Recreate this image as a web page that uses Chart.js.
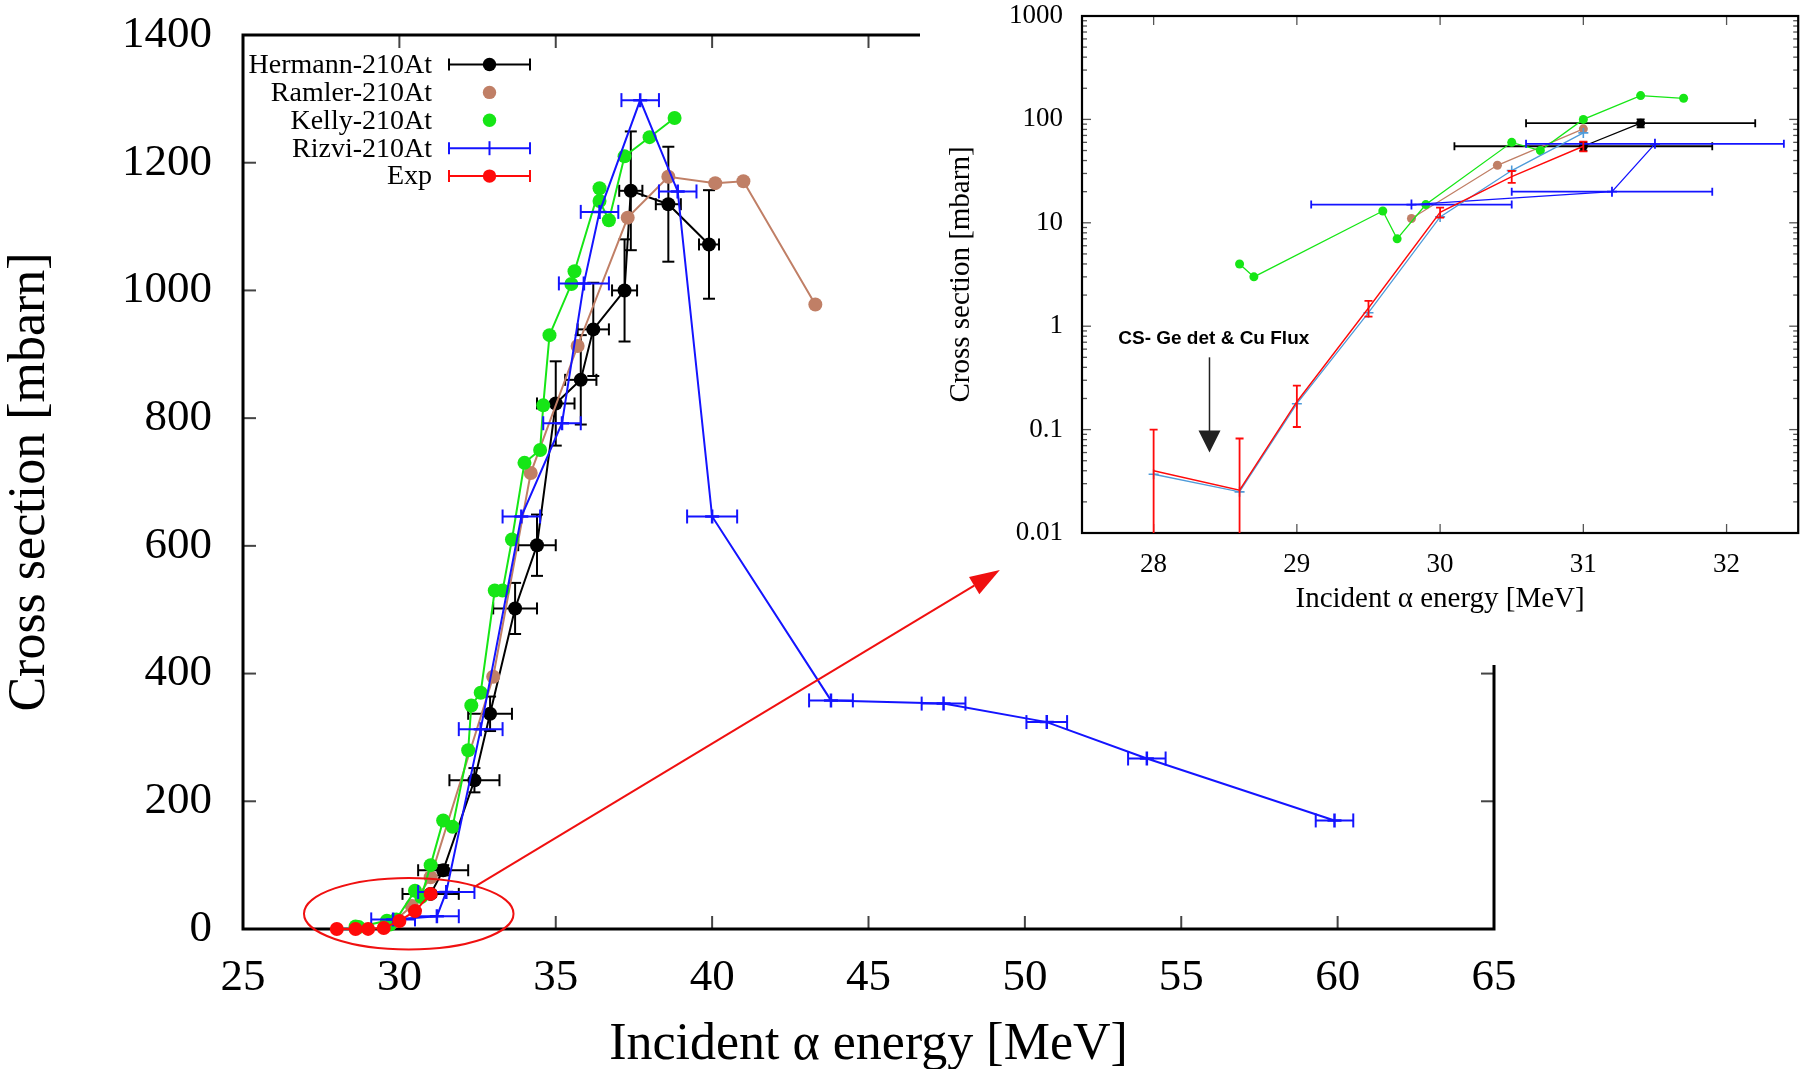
<!DOCTYPE html>
<html>
<head>
<meta charset="utf-8">
<script src="https://cdn.jsdelivr.net/npm/chart.js@4.4.0/dist/chart.umd.min.js"></script>
<style>
  html, body { margin: 0; padding: 0; background: #fff; overflow: hidden; }
  #wrap { position: relative; width: 1805px; height: 1069px; }
  #mainChart { position: absolute; left: 0; top: 0; }
  #insetChart { position: absolute; left: 920px; top: 0; background: #fff; }
  #overlay { position: absolute; left: 0; top: 0; pointer-events: none; }
</style>
</head>
<body>
<div id="wrap">
  <canvas id="mainChart" width="1805" height="1069"></canvas>
  <canvas id="insetChart" width="885" height="665"></canvas>
  <canvas id="overlay" width="1805" height="1069"></canvas>
</div>
<script>
// ---- data: alpha energy [MeV] vs cross section [mbarn] ----
const hermannE   = [31.0, 31.4, 32.4, 32.9, 33.7, 34.4, 35.0, 35.8, 36.2, 37.2, 37.4, 38.6, 39.9];
const hermannXS  = [55, 92, 233, 337, 502, 601, 823, 860, 939, 1000, 1156, 1135, 1072];
const hermannDE  = [0.9, 0.8, 0.8, 0.7, 0.7, 0.6, 0.6, 0.5, 0.5, 0.4, 0.37, 0.4, 0.32];
const hermannDXS = [5, 8, 19, 27, 40, 48, 66, 70, 73, 80, 93, 90, 85];

const ramlerE  = [29.8, 30.4, 31.0, 33.0, 34.2, 35.7, 37.3, 38.6, 40.1, 41.0, 43.3];
const ramlerXS = [11, 36, 81, 395, 714, 913, 1114, 1178, 1168, 1171, 978];

const kellyE  = [28.6, 28.7, 29.6, 29.7, 29.9, 30.5, 30.7, 31.0, 31.4, 31.7, 32.2, 32.3, 32.6, 33.05, 33.3,
                 33.6, 34.0, 34.5, 34.6, 34.8, 35.5, 35.6, 36.4, 36.4, 36.7, 37.2, 38.0, 38.8];
const kellyXS = [4, 3, 13, 7, 15, 60, 50, 100, 170, 160, 280, 350, 370, 530, 530,
                 610, 730, 750, 820, 930, 1010, 1030, 1160, 1140, 1110, 1210, 1240, 1270];

const rizviE  = [29.8, 31.2, 31.5, 32.6, 33.9, 35.2, 35.9, 36.4, 37.7, 38.9, 40.0, 43.8, 47.4, 50.7, 53.9, 59.9];
const rizviXS = [15, 20, 58, 313, 646, 792, 1011, 1123, 1298, 1155, 646, 358, 353, 324, 267, 170];
const rizviDE = [0.7, 0.7, 0.9, 0.7, 0.6, 0.6, 0.8, 0.6, 0.6, 0.6, 0.8, 0.7, 0.7, 0.65, 0.6, 0.6];

const expE   = [28.0, 28.6, 29.0, 29.5, 30.0, 30.5, 31.0];
const expXS  = [0.040, 0.026, 0.186, 1.5, 12.6, 28, 55];
const expDXS = [0.06, 0.056, 0.08, 0.26, 1.4, 3.7, 6];

const calcE  = [28.0, 28.6, 29.0, 29.5, 30.0, 30.5, 31.0];
const calcXS = [0.037, 0.025, 0.178, 1.35, 11.4, 32, 74];

const mainXTicks  = [25, 30, 35, 40, 45, 50, 55, 60, 65];
const mainYTicks  = [0, 200, 400, 600, 800, 1000, 1200, 1400];
const insetXTicks = [28, 29, 30, 31, 32];
const insetYTicks = [0.01, 0.1, 1, 10, 100, 1000];
const insetEmax   = 32;   // the zoomed panel only shows the low-energy part

// annotations (data coordinates)
const markCenter = [30.3, 24];
const markRadii  = [3.35, 56];
const arrowFrom  = [32.4, 66];
const arrowTo    = [49.2, 562];
const noteText   = 'CS- Ge det & Cu Flux';
const noteAt     = [28.42, 0.75];
const noteArrow  = [28.39, 0.5, 0.06];

const SERIF = '"Liberation Serif", "Times New Roman", serif';
const COL = {
  hermann: '#000000', ramler: '#c07f66', kelly: '#16e616',
  rizvi: '#1414ff', exp: '#ff0a0a', calc: '#4f9bd9'
};

Chart.defaults.color = '#000';
Chart.defaults.font.family = SERIF;

function series(label, color, E, XS, extra) {
  return Object.assign({
    label: label,
    data: E.map((e, i) => ({ x: e, y: XS[i] })),
    borderColor: color,
    backgroundColor: color,
    pointBackgroundColor: color,
    pointBorderColor: color,
    pointBorderWidth: 0,
    pointStyle: 'circle',
    tension: 0,
    fill: false
  }, extra);
}

// keep only the points below insetEmax (and the matching error columns)
function lowPart(E, ...cols) {
  const idx = E.map((e, i) => i).filter(i => E[i] < insetEmax);
  return [idx.map(i => E[i])].concat(cols.map(c => idx.map(i => c[i])));
}

function seg(ctx, x1, y1, x2, y2) {
  ctx.beginPath(); ctx.moveTo(x1, y1); ctx.lineTo(x2, y2); ctx.stroke();
}

// x / y error bars, drawn just under each dataset
const errorBars = {
  id: 'errorBars',
  beforeDatasetDraw(chart, args) {
    const ds = chart.data.datasets[args.index];
    if (!ds.xErr && !ds.yErr) return;
    const { ctx, chartArea: a } = chart;
    const xs = chart.scales.x, ys = chart.scales.y;
    const cap = ds.capSize || 5;
    ctx.save();
    ctx.beginPath();
    ctx.rect(a.left, a.top, a.right - a.left, a.bottom - a.top);
    ctx.clip();
    ctx.strokeStyle = ds.borderColor;
    ctx.lineWidth = ds.errWidth || 1.5;
    ds.data.forEach((p, i) => {
      const px = xs.getPixelForValue(p.x), py = ys.getPixelForValue(p.y);
      if (ds.xErr && ds.xErr[i]) {
        const x1 = xs.getPixelForValue(p.x - ds.xErr[i]);
        const x2 = xs.getPixelForValue(p.x + ds.xErr[i]);
        seg(ctx, x1, py, x2, py);
        seg(ctx, x1, py - cap, x1, py + cap);
        seg(ctx, x2, py - cap, x2, py + cap);
      }
      if (ds.yErr && ds.yErr[i]) {
        const lo = p.y - ds.yErr[i], hi = p.y + ds.yErr[i];
        const y1 = (ys.type === 'logarithmic' && lo <= 0) ? a.bottom + 20 : ys.getPixelForValue(lo);
        const y2 = ys.getPixelForValue(hi);
        seg(ctx, px, y1, px, y2);
        seg(ctx, px - cap, y1, px + cap, y1);
        seg(ctx, px - cap, y2, px + cap, y2);
      }
    });
    ctx.restore();
  }
};

// closed frame with inward ticks on all four sides
const frameTicks = {
  id: 'frameTicks',
  beforeDatasetsDraw(chart, args, o) {
    const { ctx, chartArea: a } = chart;
    const xs = chart.scales.x, ys = chart.scales.y;
    ctx.save();
    ctx.strokeStyle = o.tickColor;
    ctx.lineWidth = o.tickWidth;
    xs.ticks.forEach(t => {
      const px = xs.getPixelForValue(t.value);
      seg(ctx, px, a.bottom, px, a.bottom - o.major);
      seg(ctx, px, a.top, px, a.top + o.major);
    });
    ys.ticks.forEach(t => {
      const py = ys.getPixelForValue(t.value);
      seg(ctx, a.left, py, a.left + o.major, py);
      seg(ctx, a.right, py, a.right - o.major, py);
    });
    if (o.minor && ys.type === 'logarithmic') {
      ys.ticks.slice(0, -1).forEach(t => {
        for (let m = 2; m <= 9; m++) {
          const py = ys.getPixelForValue(t.value * m);
          seg(ctx, a.left, py, a.left + o.minor, py);
          seg(ctx, a.right, py, a.right - o.minor, py);
        }
      });
    }
    ctx.strokeStyle = '#000';
    ctx.lineWidth = o.frameWidth;
    ctx.strokeRect(a.left, a.top, a.right - a.left, a.bottom - a.top);
    ctx.restore();
  }
};

// key in the upper left corner: label right-aligned, sample to its right
const keyBox = {
  id: 'keyBox',
  afterDraw(chart) {
    const { ctx, chartArea: a } = chart;
    const textRight = a.left + 189, barL = a.left + 206, barR = a.left + 287, mid = a.left + 246.5;
    ctx.save();
    ctx.font = '28px ' + SERIF;
    ctx.textAlign = 'right';
    ctx.textBaseline = 'middle';
    chart.data.datasets.forEach((ds, i) => {
      const y = a.top + 29.5 + i * 27.9;
      ctx.fillStyle = '#000';
      ctx.fillText(ds.label, textRight, y + 1);
      ctx.strokeStyle = ds.borderColor;
      ctx.fillStyle = ds.borderColor;
      ctx.lineWidth = 2;
      if (ds.keyBar) {
        seg(ctx, barL, y, barR, y);
        seg(ctx, barL, y - 6, barL, y + 6);
        seg(ctx, barR, y - 6, barR, y + 6);
      }
      if (ds.pointStyle === 'cross') {
        seg(ctx, mid, y - 7, mid, y + 7);
      } else {
        ctx.beginPath(); ctx.arc(mid, y, 6.7, 0, Math.PI * 2); ctx.fill();
      }
    });
    ctx.restore();
  }
};

// red ellipse around the threshold region and arrow pointing to the zoomed panel
const zoomMark = {
  id: 'zoomMark',
  afterDraw(chart) {
    const cv = document.getElementById('overlay');
    const ctx = cv.getContext('2d');
    ctx.clearRect(0, 0, cv.width, cv.height);
    const xs = chart.scales.x, ys = chart.scales.y;
    const cx = xs.getPixelForValue(markCenter[0]), cy = ys.getPixelForValue(markCenter[1]);
    const rx = xs.getPixelForValue(markCenter[0] + markRadii[0]) - cx;
    const ry = cy - ys.getPixelForValue(markCenter[1] + markRadii[1]);
    ctx.strokeStyle = '#f01010';
    ctx.fillStyle = '#f01010';
    ctx.lineWidth = 2;
    ctx.beginPath(); ctx.ellipse(cx, cy, rx, ry, 0, 0, Math.PI * 2); ctx.stroke();

    const x1 = xs.getPixelForValue(arrowFrom[0]), y1 = ys.getPixelForValue(arrowFrom[1]);
    const x2 = xs.getPixelForValue(arrowTo[0]), y2 = ys.getPixelForValue(arrowTo[1]);
    const ang = Math.atan2(y2 - y1, x2 - x1);
    const len = 30, hw = 10;
    const bx = x2 - len * Math.cos(ang), by = y2 - len * Math.sin(ang);
    seg(ctx, x1, y1, bx, by);
    ctx.beginPath();
    ctx.moveTo(x2, y2);
    ctx.lineTo(bx + hw * Math.sin(ang), by - hw * Math.cos(ang));
    ctx.lineTo(bx - hw * Math.sin(ang), by + hw * Math.cos(ang));
    ctx.closePath();
    ctx.fill();
  }
};

// label and downward arrow inside the zoomed panel
const cutNote = {
  id: 'cutNote',
  afterDraw(chart) {
    const { ctx } = chart;
    const xs = chart.scales.x, ys = chart.scales.y;
    ctx.save();
    ctx.font = 'bold 19px "Liberation Sans", Arial, sans-serif';
    ctx.fillStyle = '#000';
    ctx.textAlign = 'center';
    ctx.textBaseline = 'middle';
    ctx.fillText(noteText, xs.getPixelForValue(noteAt[0]), ys.getPixelForValue(noteAt[1]));
    const ax = xs.getPixelForValue(noteArrow[0]);
    const ay1 = ys.getPixelForValue(noteArrow[1]), ay2 = ys.getPixelForValue(noteArrow[2]);
    ctx.strokeStyle = '#222';
    ctx.fillStyle = '#222';
    ctx.lineWidth = 1.5;
    seg(ctx, ax, ay1, ax, ay2 - 20);
    ctx.beginPath();
    ctx.moveTo(ax, ay2);
    ctx.lineTo(ax - 11, ay2 - 22);
    ctx.lineTo(ax + 11, ay2 - 22);
    ctx.closePath();
    ctx.fill();
    ctx.restore();
  }
};

function fixedTicks(list) {
  return scale => { scale.ticks = list.map(v => ({ value: v })); };
}
// fixed axis thickness, no extra room reserved for end labels
function fixHeight(h) {
  return s => { s.height = h; s.paddingLeft = 0; s.paddingRight = 0; };
}
function fixWidth(w) {
  return s => { s.width = w; s.paddingTop = 0; s.paddingBottom = 0; };
}
const plain = v => String(v);

// ---------------- main panel ----------------
const mainSets = [
  series('Hermann-210At', COL.hermann, hermannE, hermannXS,
    { xErr: hermannDE, yErr: hermannDXS, borderWidth: 2, pointRadius: 7, errWidth: 2, capSize: 6, keyBar: true, order: 4, clip: false }),
  series('Ramler-210At', COL.ramler, ramlerE, ramlerXS,
    { borderWidth: 2, pointRadius: 7, order: 3, clip: false }),
  series('Kelly-210At', COL.kelly, kellyE, kellyXS,
    { borderWidth: 2, pointRadius: 7, order: 2, clip: false }),
  series('Rizvi-210At', COL.rizvi, rizviE, rizviXS,
    { xErr: rizviDE, borderWidth: 2, pointStyle: 'cross', pointRadius: 7, pointBorderWidth: 2.5,
      errWidth: 2, capSize: 7, keyBar: true, order: 1, clip: false }),
  series('Exp', COL.exp, expE, expXS,
    { yErr: expDXS, borderWidth: 2, pointRadius: 7, errWidth: 2, capSize: 5, keyBar: true, order: 0, clip: false })
];

new Chart(document.getElementById('mainChart'), {
  type: 'line',
  data: { datasets: mainSets },
  options: {
    responsive: false,
    animation: false,
    devicePixelRatio: 1,
    events: [],
    layout: { padding: { left: 0, top: 35, right: 311, bottom: 0 } },
    plugins: {
      legend: { display: false },
      tooltip: { enabled: false },
      frameTicks: { major: 13, minor: 0, tickWidth: 2, tickColor: '#444', frameWidth: 3 }
    },
    scales: {
      x: {
        type: 'linear', min: 25, max: 65,
        afterBuildTicks: fixedTicks(mainXTicks),
        afterFit: fixHeight(140),
        grid: { display: false }, border: { display: false },
        ticks: { font: { size: 45 }, padding: 14, maxRotation: 0, autoSkip: false, callback: plain },
        title: { display: true, text: 'Incident α energy [MeV]', font: { size: 52, lineHeight: 0.9 }, padding: { top: 0, bottom: 0 } }
      },
      y: {
        type: 'linear', min: 0, max: 1400,
        afterBuildTicks: fixedTicks(mainYTicks),
        afterFit: fixWidth(243),
        grid: { display: false }, border: { display: false },
        ticks: { font: { size: 45 }, padding: 23, autoSkip: false, callback: plain },
        title: { display: true, text: 'Cross section [mbarn]', font: { size: 52, lineHeight: 1.15 }, padding: { top: 0, bottom: 0 } }
      }
    }
  },
  plugins: [errorBars, frameTicks, keyBox, zoomMark]
});

// ---------------- zoomed threshold panel ----------------
const [hE, hXS, hDE, hDXS] = lowPart(hermannE, hermannXS, hermannDE, hermannDXS);
const [rE, rXS] = lowPart(ramlerE, ramlerXS);
const [kE, kXS] = lowPart(kellyE, kellyXS);
const [zE, zXS, zDE] = lowPart(rizviE, rizviXS, rizviDE);

const insetSets = [
  series('Hermann-210At', COL.hermann, hE, hXS,
    { xErr: hDE, yErr: hDXS, borderWidth: 1.3, pointRadius: 4.5, errWidth: 1.8, capSize: 4, order: 5 }),
  series('Ramler-210At', COL.ramler, rE, rXS, { borderWidth: 1.3, pointRadius: 4.5, order: 4 }),
  series('Kelly-210At', COL.kelly, kE, kXS, { borderWidth: 1.3, pointRadius: 4.5, order: 3 }),
  series('Rizvi-210At', COL.rizvi, zE, zXS,
    { xErr: zDE, borderWidth: 1.3, pointStyle: 'cross', pointRadius: 5, pointBorderWidth: 1.8,
      errWidth: 1.8, capSize: 4, order: 2 }),
  series('Calc', COL.calc, calcE, calcXS,
    { borderWidth: 1.3, pointStyle: 'cross', pointRadius: 5, pointBorderWidth: 1.6, order: 1 }),
  series('Exp', COL.exp, expE, expXS,
    { yErr: expDXS, borderWidth: 1.4, pointRadius: 0, errWidth: 1.8, capSize: 4, order: 0 })
];

new Chart(document.getElementById('insetChart'), {
  type: 'line',
  data: { datasets: insetSets },
  options: {
    responsive: false,
    animation: false,
    devicePixelRatio: 1,
    events: [],
    layout: { padding: { left: 0, top: 16, right: 2, bottom: 0 } },
    plugins: {
      legend: { display: false },
      tooltip: { enabled: false },
      frameTicks: { major: 9, minor: 5, tickWidth: 1.3, tickColor: '#555', frameWidth: 2.2 }
    },
    scales: {
      x: {
        type: 'linear', min: 27.5, max: 32.5,
        afterBuildTicks: fixedTicks(insetXTicks),
        afterFit: fixHeight(132),
        grid: { display: false }, border: { display: false },
        ticks: { font: { size: 27 }, padding: 8, maxRotation: 0, autoSkip: false, callback: plain },
        title: { display: true, text: 'Incident α energy [MeV]', font: { size: 29, lineHeight: 1.2 }, padding: { top: 0, bottom: 48 } }
      },
      y: {
        type: 'logarithmic', min: 0.01, max: 1000,
        afterBuildTicks: fixedTicks(insetYTicks),
        afterFit: fixWidth(162),
        grid: { display: false }, border: { display: false },
        ticks: { font: { size: 27 }, padding: 11, autoSkip: false, callback: plain },
        title: { display: true, text: 'Cross section [mbarn]', font: { size: 29, lineHeight: 1.2 }, padding: { top: 24, bottom: 0 } }
      }
    }
  },
  plugins: [errorBars, frameTicks, cutNote]
});
</script>
</body>
</html>
